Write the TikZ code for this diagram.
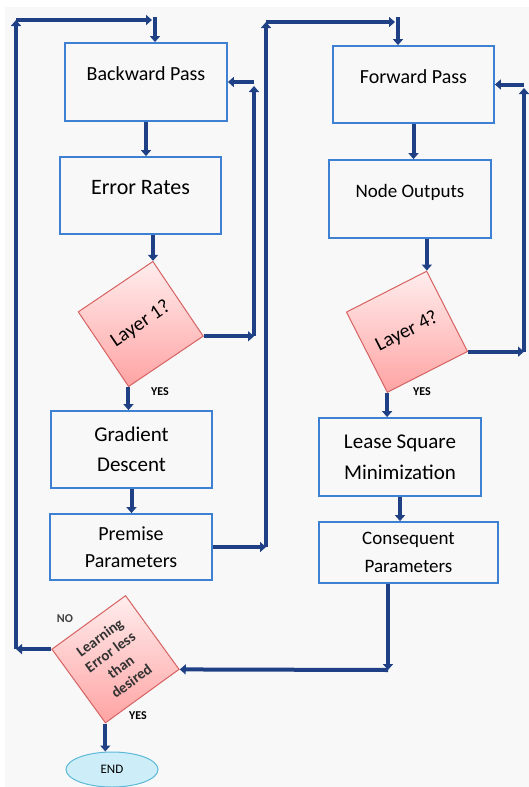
\documentclass[tikz,border=0pt]{standalone}
\usepackage{fontspec}
\setmainfont{Carlito}
\usepackage{tikz}
\usetikzlibrary{arrows.meta,shapes.geometric}

\definecolor{flownavy}{RGB}{31,64,132}
\definecolor{boxblue}{RGB}{62,128,210}
\definecolor{paper}{RGB}{248,248,248}
\definecolor{rimred}{RGB}{214,98,98}
\definecolor{endcyan}{RGB}{205,238,248}
\definecolor{endrim}{RGB}{92,186,216}

\tikzset{
  box/.style={draw=boxblue, line width=1.8pt, fill=paper, inner sep=0pt, align=center},
  onerow/.style={font=\fontsize{20}{24}\selectfont, text height=14pt, text depth=17pt},
  tworow/.style={font=\fontsize{20}{29}\selectfont},
  decide/.style={draw=rimred, line width=1pt, top color=red!7, bottom color=red!36,
    minimum width=90pt, minimum height=90pt, inner sep=0pt, align=center},
  arr/.style={draw=flownavy, line width=4pt, -{Triangle[width=10pt,length=6pt]}},
  yesno/.style={font=\fontsize{12}{14}\selectfont\bfseries}
}

\begin{document}
\begin{tikzpicture}[x=1pt,y=-1pt]
\useasboundingbox (0,0) rectangle (529,787);
\fill[white] (0,0) rectangle (529,787);
\fill[paper] (5,7) rectangle (529,787);

% left column
\node[box,onerow,minimum width=162pt,minimum height=78pt] (bwd) at (146,82) {Backward Pass};
\node[box,onerow,minimum width=161pt,minimum height=77pt,font=\fontsize{22}{26}\selectfont] (err) at (140.5,195.5) {Error Rates};
\node[decide,rotate=34,font=\fontsize{20}{24}\selectfont] (L1) at (140.75,324) {Layer 1?};
\node[box,tworow,minimum width=161pt,minimum height=77pt,font=\fontsize{21}{30}\selectfont] (grad) at (131.5,449.5) {Gradient\\Descent};
\node[box,tworow,minimum width=162pt,minimum height=66pt,font=\fontsize{20}{27}\selectfont] (prem) at (131,547) {Premise\\Parameters};

% right column
\node[box,onerow,minimum width=161pt,minimum height=77pt] (fwd) at (413.5,84.5) {Forward Pass};
\node[box,onerow,minimum width=162pt,minimum height=78pt,font=\fontsize{19}{23}\selectfont] (nout) at (410,199) {Node Outputs};
\node[decide,rotate=27,font=\fontsize{20}{24}\selectfont] (L4) at (407,331.75) {Layer 4?};
\node[box,tworow,minimum width=162pt,minimum height=78pt,font=\fontsize{21}{31}\selectfont] (lsm) at (400,457) {Lease Square\\Minimization};
\node[box,tworow,minimum width=179pt,minimum height=61pt,font=\fontsize{19}{28}\selectfont] (cons) at (408.5,552.5) {Consequent\\Parameters};

% bottom
\node[decide,rotate=36,minimum width=91pt,minimum height=91pt,font=\fontsize{15}{18}\selectfont\bfseries,text=black!80] (learn) at (115.5,659.25) {Learning\\Error less\\than\\desired};
\node[ellipse,draw=endrim,line width=1pt,fill=endcyan,minimum width=92pt,minimum height=35pt,inner sep=0pt,font=\fontsize{13}{15}\selectfont] (endn) at (112,769.5) {END};

\node[yesno] (yes1) at (160,392) {YES};
\node[yesno] (yes2) at (422,392) {YES};
\node[yesno] (yes3) at (138,716) {YES};
\node[yesno,text=black!75] (no1) at (65,619) {NO};

\coordinate (ol) at (16,20);
\coordinate (ot) at (152,20);
\coordinate (od) at (155,17);
\coordinate (rl) at (254,86);
\coordinate (ml) at (266,22);
\coordinate (mt) at (395,22);
\coordinate (md) at (398,17);
\coordinate (rr) at (524,88);
\coordinate (bt) at (388,670);

% down the left column
\draw[arr] (bwd.south) -- (bwd.south |- err.north);
\draw[arr] (L1.north east |- err.south) -- (L1.north east);
\draw[arr] (L1.south west) -- (L1.south west |- grad.north);
\draw[arr] (grad.south) -- (grad.south |- prem.north);

% back to Backward Pass
\draw[arr] (L1.south east) -- (L1.south east -| rl);
\draw[arr] (L1.south east -| rl) -- (rl);
\draw[arr] (rl |- bwd.east) -- (bwd.east);

% over to Forward Pass
\draw[arr] (prem.east) -- (prem.east -| ml);
\draw[arr] (prem.east -| ml) -- (ml);
\draw[arr] (ml) -- (mt);
\draw[arr] (md) -- (md |- fwd.north);

% down the right column
\draw[arr] (fwd.south) -- (fwd.south |- nout.north);
\draw[arr] (L4.north east |- nout.south) -- (L4.north east);
\draw[arr] (L4.south west) -- (L4.south west |- lsm.north);
\draw[arr] (lsm.south) -- (lsm.south |- cons.north);

% back to Forward Pass
\draw[arr] (L4.south east) -- (L4.south east -| rr);
\draw[arr] (L4.south east -| rr) -- (rr);
\draw[arr] (rr |- fwd.east) -- (fwd.east);

% to the error test
\draw[arr] (bt |- cons.south) -- (bt);
\draw[arr] (bt) -- (learn.south east);
\draw[arr] (learn.south west) -- (learn.south west |- endn.north);

% NO: start again
\draw[arr] (learn.north west) -- (learn.north west -| ol);
\draw[arr] (learn.north west -| ol) -- (ol);
\draw[arr] (ol) -- (ot);
\draw[arr] (od) -- (od |- bwd.north);
\end{tikzpicture}
\end{document}
